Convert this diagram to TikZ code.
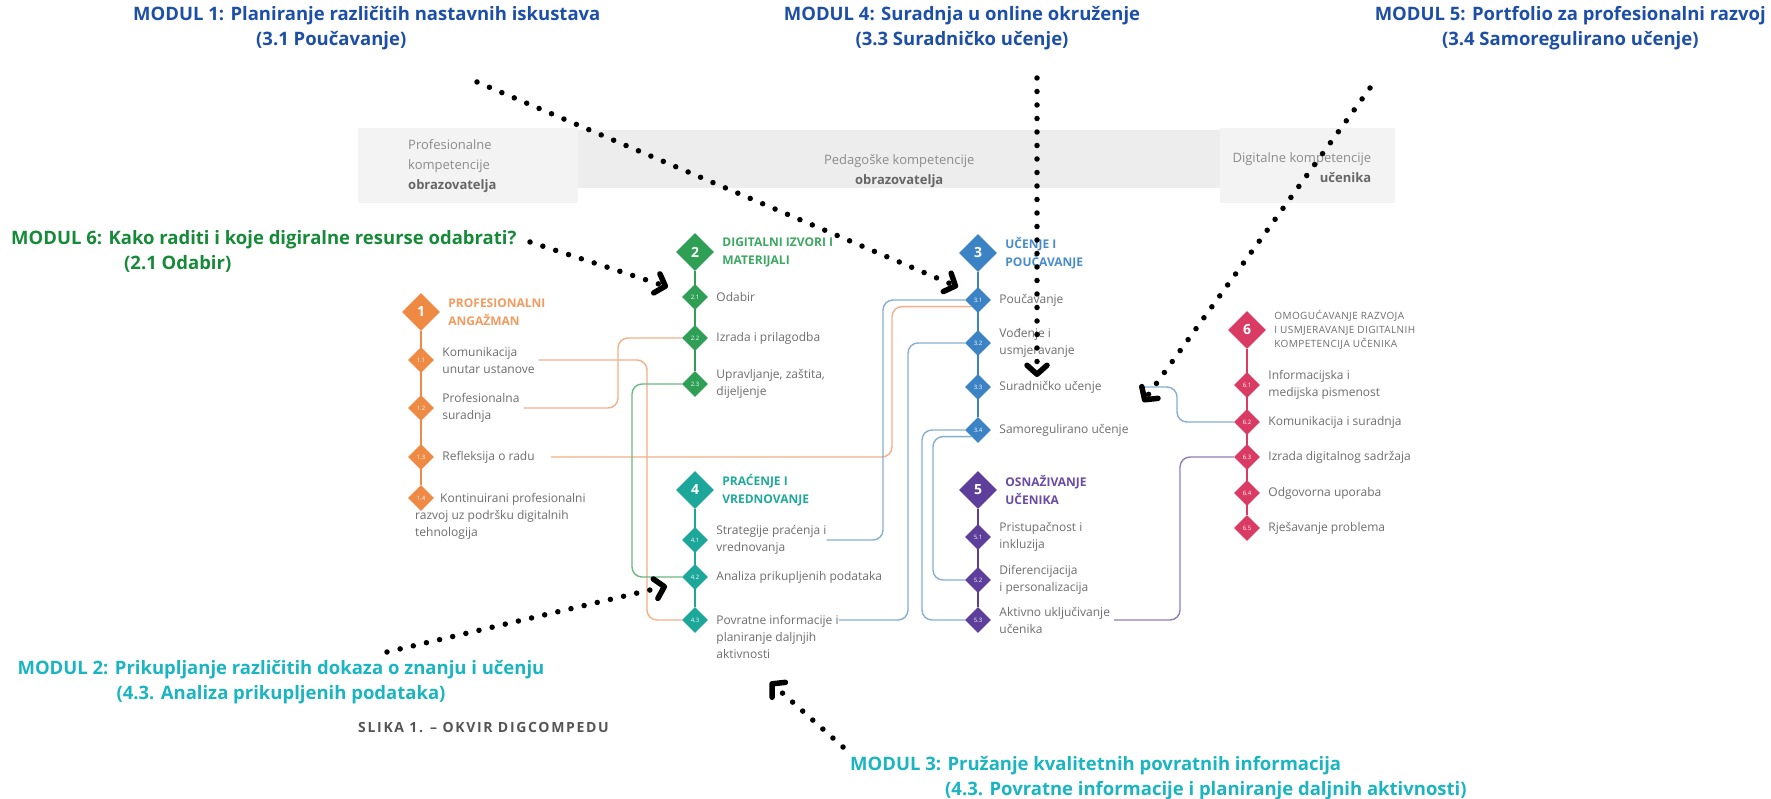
\documentclass[tikz,border=0pt]{standalone}
\usepackage{fontspec}
\setmainfont{Open Sans}
\usetikzlibrary{arrows.meta}
\usetikzlibrary{positioning, shapes.geometric, backgrounds}

\definecolor{orangeA}{HTML}{EF8A45}
\definecolor{orangeT}{HTML}{F29B5E}
\definecolor{orangeL}{HTML}{F3B088}
\definecolor{greenA}{HTML}{2E9F55}
\definecolor{greenT}{HTML}{3DA862}
\definecolor{greenL}{HTML}{6DB883}
\definecolor{blueA}{HTML}{3C83C5}
\definecolor{blueT}{HTML}{4A8CCB}
\definecolor{blueL}{HTML}{86AED3}
\definecolor{tealA}{HTML}{1DA79B}
\definecolor{tealT}{HTML}{21A99C}
\definecolor{purpleA}{HTML}{5D3E9A}
\definecolor{purpleT}{HTML}{6A4BA6}
\definecolor{purpleL}{HTML}{8F7DB5}
\definecolor{redA}{HTML}{D93B64}
\definecolor{greyT}{HTML}{6E6E6E}
\definecolor{greyB}{HTML}{8C8C8C}
\definecolor{greyD}{HTML}{666666}
\definecolor{greyC}{HTML}{555555}
\definecolor{bandA}{HTML}{F3F3F3}
\definecolor{bandB}{HTML}{EDEDED}
\definecolor{modBlue}{HTML}{1D4FA6}
\definecolor{modGreen}{HTML}{178A3A}
\definecolor{modCyan}{HTML}{1BB5C2}

\begin{document}
\begin{tikzpicture}[
            x=1pt, y=-1pt,
            node distance=8pt,
            area_big/.style={diamond, aspect=1, inner sep=0pt, minimum size=38pt, text=white, font=\fontsize{14}{14}\selectfont\bfseries},
            area_small/.style={diamond, aspect=1, inner sep=0pt, minimum size=26pt, text=white, font=\fontsize{6}{6}\selectfont, on grid},
            area_title/.style={inner sep=0pt, align=left, font=\fontsize{12}{18}\selectfont\bfseries},
            item_text/.style={inner sep=0pt, align=left, text=greyT, font=\fontsize{12}{17}\selectfont},
            band_box/.style={inner sep=0pt, anchor=north west},
            band_text/.style={inner sep=0pt, text=greyB, font=\fontsize{13}{20}\selectfont},
            modul_text/.style={inner sep=0pt, font=\fontsize{18.5}{25}\selectfont\bfseries},
            stem_line/.style={line width=2pt},
            link_line/.style={line width=1.4pt, rounded corners=10pt},
            modul_arrow/.style={line width=5.5pt, line cap=round, dash pattern=on 0pt off 13.5pt, -{Straight Barb[length=9pt, width=20pt, round]}}
        ]
        \useasboundingbox (0,0) rectangle (1771,799);

        % Header band
        \node[band_box, fill=bandA, minimum width=220pt, minimum height=75pt] (band_left) at (358,128) {};
        \node[band_box, fill=bandB, minimum width=642pt, minimum height=58pt] (band_mid) at (578,130) {};
        \node[band_box, fill=bandA, minimum width=175pt, minimum height=75pt] (band_right) at (1220,128) {};
        \node[band_text, align=left, right=50pt of band_left.west] (band_left_txt) {Profesionalne\\kompetencije\\\textcolor{greyD}{\bfseries obrazovatelja}};
        \node[band_text, align=center, below=24pt of band_mid.north] (band_mid_txt) {Pedagoške kompetencije\\\textcolor{greyD}{\bfseries obrazovatelja}};
        \node[band_text, align=right, below left=24pt and 24pt of band_right.north east] (band_right_txt) {Digitalne kompetencije\\\textcolor{greyD}{\bfseries učenika}};

        % Area 1
        \node[area_big, fill=orangeA] (dia_1) at (421,312) {1};
        \node[area_title, text=orangeT, right=of dia_1] (title_1) {PROFESIONALNI\\ANGAŽMAN};
        \node[area_small, fill=orangeA, below=48pt of dia_1] (dia_11) {1.1};
        \node[area_small, fill=orangeA, below=48pt of dia_11] (dia_12) {1.2};
        \node[area_small, fill=orangeA, below=49pt of dia_12] (dia_13) {1.3};
        \node[area_small, fill=orangeA, below=41pt of dia_13] (dia_14) {1.4};
        \node[item_text, right=of dia_11] (txt_11) {Komunikacija\\unutar ustanove};
        \node[item_text, right=of dia_12] (txt_12) {Profesionalna\\suradnja};
        \node[item_text, right=of dia_13] (txt_13) {Refleksija o radu};
        \node[item_text, anchor=north west] (txt_14) at (415,493) {\hspace*{25pt}Kontinuirani profesionalni\\razvoj uz podršku digitalnih\\tehnologija};

        % Area 2
        \node[area_big, fill=greenA] (dia_2) at (695,252) {2};
        \node[area_title, text=greenT, right=of dia_2] (title_2) {DIGITALNI IZVORI I\\MATERIJALI};
        \node[area_small, fill=greenA, below=45pt of dia_2] (dia_21) {2.1};
        \node[area_small, fill=greenA, below=41pt of dia_21] (dia_22) {2.2};
        \node[area_small, fill=greenA, below=46pt of dia_22] (dia_23) {2.3};
        \node[item_text, right=of dia_21] (txt_21) {Odabir};
        \node[item_text, right=of dia_22] (txt_22) {Izrada i prilagodba};
        \node[item_text, right=of dia_23] (txt_23) {Upravljanje, zaštita,\\dijeljenje};

        % Area 3
        \node[area_big, fill=blueA] (dia_3) at (978,253) {3};
        \node[area_title, text=blueT, right=of dia_3] (title_3) {UČENJE I\\POUČAVANJE};
        \node[area_small, fill=blueA, below=47pt of dia_3] (dia_31) {3.1};
        \node[area_small, fill=blueA, below=43pt of dia_31] (dia_32) {3.2};
        \node[area_small, fill=blueA, below=44pt of dia_32] (dia_33) {3.3};
        \node[area_small, fill=blueA, below=43pt of dia_33] (dia_34) {3.4};
        \node[item_text, right=of dia_31] (txt_31) {Poučavanje};
        \node[item_text, right=of dia_32] (txt_32) {Vođenje i\\usmjeravanje};
        \node[item_text, right=of dia_33] (txt_33) {Suradničko učenje};
        \node[item_text, right=of dia_34] (txt_34) {Samoregulirano učenje};

        % Area 4
        \node[area_big, fill=tealA] (dia_4) at (695,490) {4};
        \node[area_title, text=tealT, right=of dia_4] (title_4) {PRAĆENJE I\\VREDNOVANJE};
        \node[area_small, fill=tealA, below=50pt of dia_4] (dia_41) {4.1};
        \node[area_small, fill=tealA, below=37pt of dia_41] (dia_42) {4.2};
        \node[area_small, fill=tealA, below=43pt of dia_42] (dia_43) {4.3};
        \node[item_text, right=of dia_41] (txt_41) {Strategije praćenja i\\vrednovanja};
        \node[item_text, right=of dia_42] (txt_42) {Analiza prikupljenih podataka};
        \node[item_text, right=of dia_43, yshift=-17pt] (txt_43) {Povratne informacije i\\planiranje daljnjih\\aktivnosti};

        % Area 5
        \node[area_big, fill=purpleA] (dia_5) at (978,490) {5};
        \node[area_title, text=purpleT, right=of dia_5] (title_5) {OSNAŽIVANJE\\UČENIKA};
        \node[area_small, fill=purpleA, below=47pt of dia_5] (dia_51) {5.1};
        \node[area_small, fill=purpleA, below=43pt of dia_51] (dia_52) {5.2};
        \node[area_small, fill=purpleA, below=40pt of dia_52] (dia_53) {5.3};
        \node[item_text, right=of dia_51] (txt_51) {Pristupačnost i\\inkluzija};
        \node[item_text, right=of dia_52] (txt_52) {Diferencijacija\\i personalizacija};
        \node[item_text, right=of dia_53] (txt_53) {Aktivno uključivanje\\učenika};

        % Area 6
        \node[area_big, fill=redA] (dia_6) at (1247,330) {6};
        \node[area_title, text=greyT, right=of dia_6, font=\fontsize{10}{14}\selectfont\addfontfeatures{LetterSpace=4}] (title_6) {OMOGUĆAVANJE RAZVOJA\\I USMJERAVANJE DIGITALNIH\\KOMPETENCIJA UČENIKA};
        \node[area_small, fill=redA, below=55pt of dia_6] (dia_61) {6.1};
        \node[area_small, fill=redA, below=37pt of dia_61] (dia_62) {6.2};
        \node[area_small, fill=redA, below=35pt of dia_62] (dia_63) {6.3};
        \node[area_small, fill=redA, below=36pt of dia_63] (dia_64) {6.4};
        \node[area_small, fill=redA, below=35pt of dia_64] (dia_65) {6.5};
        \node[item_text, right=of dia_61] (txt_61) {Informacijska i\\medijska pismenost};
        \node[item_text, right=of dia_62] (txt_62) {Komunikacija i suradnja};
        \node[item_text, right=of dia_63] (txt_63) {Izrada digitalnog sadržaja};
        \node[item_text, right=of dia_64] (txt_64) {Odgovorna uporaba};
        \node[item_text, right=of dia_65] (txt_65) {Rješavanje problema};

        % Channels for the links
        \coordinate (chan_o1) at (647,0);
        \coordinate (chan_o2) at (618,0);
        \coordinate (chan_o3) at (892,0);
        \coordinate (chan_g) at (632,0);
        \coordinate (chan_b1) at (883,0);
        \coordinate (chan_b2) at (908,0);
        \coordinate (chan_b3) at (922,0);
        \coordinate (chan_b4) at (933,0);
        \coordinate (chan_b5) at (1177,0);
        \coordinate (chan_p) at (1180,0);
        \coordinate[right=40pt of txt_33.east] (start_33);

        \begin{scope}[on background layer]
        \fill[white] (0,0) rectangle (1771,799);

        % Stems
        \draw[stem_line, orangeA] (dia_1) -- (dia_14);
        \draw[stem_line, greenA] (dia_2) -- (dia_23);
        \draw[stem_line, blueA] (dia_3) -- (dia_34);
        \draw[stem_line, tealA] (dia_4) -- (dia_43);
        \draw[stem_line, purpleA] (dia_5) -- (dia_53);
        \draw[stem_line, redA] (dia_6) -- (dia_65);

        % Links between areas
        \draw[link_line, orangeL, shorten <=4pt] (txt_11.east) -| (chan_o1 |- dia_43) -- (dia_43.west);
        \draw[link_line, orangeL, shorten <=4pt] (txt_12.east) -| (chan_o2 |- dia_22) -- (dia_22.west);
        \draw[link_line, orangeL, shorten <=16pt] (txt_13.east) -| (chan_o3 |- dia_31.south west) -- (dia_31.south west);
        \draw[link_line, greenL] (dia_23.west) -| (chan_g |- dia_42) -- (dia_42.west);
        \draw[link_line, blueL] (dia_31.west) -| (chan_b1 |- dia_41) -- (txt_41.east |- dia_41);
        \draw[link_line, blueL] (dia_32.west) -| (chan_b2 |- dia_43) -- (txt_43.east |- dia_43);
        \draw[link_line, blueL] (dia_34.west) -| (chan_b3 |- dia_53) -- (dia_53.west);
        \draw[link_line, blueL] (dia_34.south west) -| (chan_b4 |- dia_52) -- (dia_52.west);
        \draw[link_line, blueL] (start_33) -| (chan_b5 |- dia_62) -- (dia_62.west);
        \draw[link_line, purpleL, shorten <=4pt] (txt_53.east |- dia_53) -| (chan_p |- dia_63) -- (dia_63.west);
        \end{scope}

        % Module labels
        \node[modul_text, text=modBlue, align=left, anchor=north west] (modul_1) at (133,6) {MODUL 1: Planiranje različitih nastavnih iskustava\\\hspace*{123pt}(3.1 Poučavanje)};
        \node[modul_text, text=modBlue, align=center, anchor=north] (modul_4) at (962,6) {MODUL 4: Suradnja u online okruženje\\(3.3 Suradničko učenje)};
        \node[modul_text, text=modBlue, align=center, anchor=north east] (modul_5) at (1766,6) {MODUL 5: Portfolio za profesionalni razvoj\\(3.4 Samoregulirano učenje)};
        \node[modul_text, text=modGreen, align=left, anchor=north west] (modul_6) at (11,230) {MODUL 6: Kako raditi i koje digiralne resurse odabrati?\\\hspace*{113pt}(2.1 Odabir)};
        \node[modul_text, text=modCyan, align=center, anchor=north] (modul_2) at (281,660) {MODUL 2: Prikupljanje različitih dokaza o znanju i učenju\\(4.3. Analiza prikupljenih podataka)};
        \node[modul_text, text=modCyan, align=left, anchor=north west] (modul_3) at (850,756) {MODUL 3: Pružanje kvalitetnih povratnih informacija\\\hspace*{95pt}(4.3. Povratne informacije i planiranje daljnih aktivnosti)};
        \node[anchor=west, inner sep=0pt, text=greyC, font=\fontsize{14}{14}\selectfont\bfseries\addfontfeatures{LetterSpace=12}] (fig_caption) at (358,728) {SLIKA 1. – OKVIR DIGCOMPEDU};

        % Dotted pointers
        \coordinate (m1_from) at (477,82);
        \coordinate (m1_to) at (958,287);
        \coordinate (m4_from) at (1037,78);
        \coordinate (m4_to) at (1037,377);
        \coordinate (m5_from) at (1370,88);
        \coordinate (m5_to) at (1143,402);
        \coordinate (m6_from) at (530,242);
        \coordinate (m6_to) at (668,287);
        \coordinate (m2_from) at (387,652);
        \coordinate (m2_to) at (667,586);
        \coordinate (m3_from) at (843,747);
        \coordinate (m3_to) at (770,682);
        \draw[modul_arrow] (m1_from) -- (m1_to);
        \draw[modul_arrow] (m4_from) -- (m4_to);
        \draw[modul_arrow] (m5_from) -- (m5_to);
        \draw[modul_arrow] (m6_from) -- (m6_to);
        \draw[modul_arrow] (m2_from) -- (m2_to);
        \draw[modul_arrow] (m3_from) -- (m3_to);

    \end{tikzpicture}
\end{document}
